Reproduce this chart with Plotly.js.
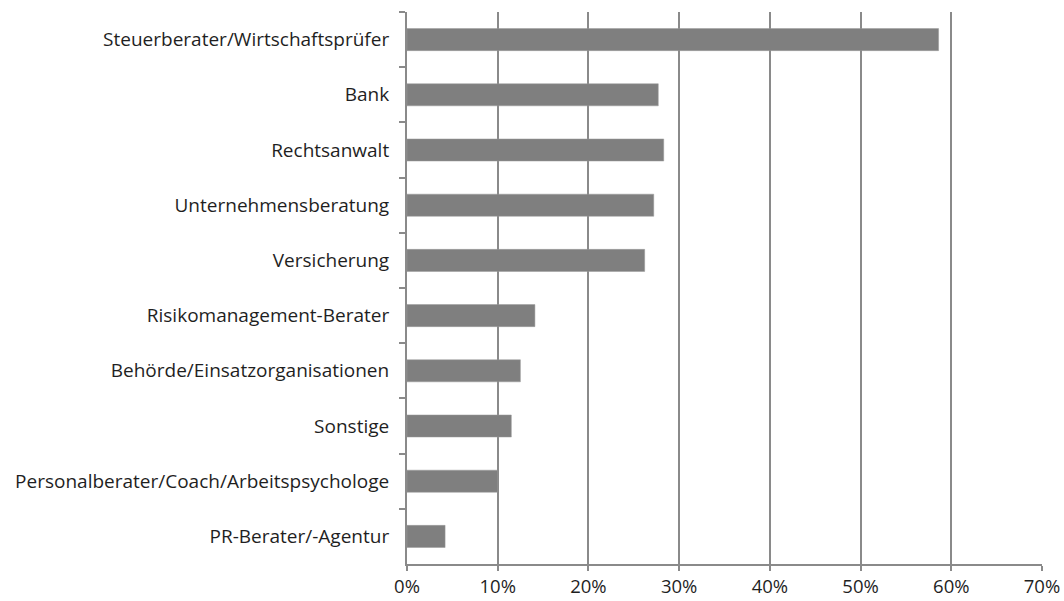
<!DOCTYPE html>
<html>
<head>
<meta charset="utf-8">
<script src="https://cdn.plot.ly/plotly-3.0.1.min.js"></script>
<style>html,body{margin:0;padding:0;background:#fff;}#chart{width:1064px;height:601px;}</style>
</head>
<body>
<div id="chart"></div>
<script>
const categories = [
  "Steuerberater/Wirtschaftsprüfer",
  "Bank",
  "Rechtsanwalt",
  "Unternehmensberatung",
  "Versicherung",
  "Risikomanagement-Berater",
  "Behörde/Einsatzorganisationen",
  "Sonstige",
  "Personalberater/Coach/Arbeitspsychologe",
  "PR-Berater/-Agentur"
];
const values = [0.586, 0.277, 0.283, 0.272, 0.262, 0.141, 0.125, 0.115, 0.100, 0.042];
const xTickValues = [0, 0.1, 0.2, 0.3, 0.4, 0.5, 0.6, 0.7];

const axisColor = "#8a8a8a";
const fontFamily = "'Open Sans', 'Noto Sans', sans-serif";

Plotly.newPlot("chart", [{
  type: "bar",
  orientation: "h",
  x: values,
  y: categories,
  marker: {color: "#7f7f7f", line: {color: "#9a9a9a", width: 0.5}},
  hoverinfo: "x+y"
}], {
  width: 1064,
  height: 601,
  margin: {l: 407, r: 22, t: 12, b: 37},
  paper_bgcolor: "#ffffff",
  plot_bgcolor: "#ffffff",
  showlegend: false,
  bargap: 0.6,
  font: {family: fontFamily, size: 19, color: "#1f1f1f"},
  xaxis: {
    range: [0, 0.7],
    tickvals: xTickValues,
    tickformat: ".0%",
    showgrid: true,
    gridcolor: axisColor,
    gridwidth: 2,
    showline: true,
    linecolor: axisColor,
    linewidth: 2,
    ticks: "outside",
    ticklen: 5,
    tickcolor: axisColor,
    tickwidth: 2,
    zeroline: false,
    ticklabelstandoff: 0,
    tickfont: {family: fontFamily, size: 18.5, color: "#1f1f1f"},
    fixedrange: true
  },
  yaxis: {
    autorange: "reversed",
    type: "category",
    showgrid: false,
    showline: true,
    linecolor: axisColor,
    linewidth: 2,
    ticks: "outside",
    tickson: "boundaries",
    ticklen: 6,
    tickcolor: axisColor,
    tickwidth: 2,
    zeroline: false,
    ticklabelstandoff: 12,
    tickfont: {family: fontFamily, size: 19, color: "#1f1f1f"},
    fixedrange: true
  }
}, {displayModeBar: false, staticPlot: true});
</script>
</body>
</html>
